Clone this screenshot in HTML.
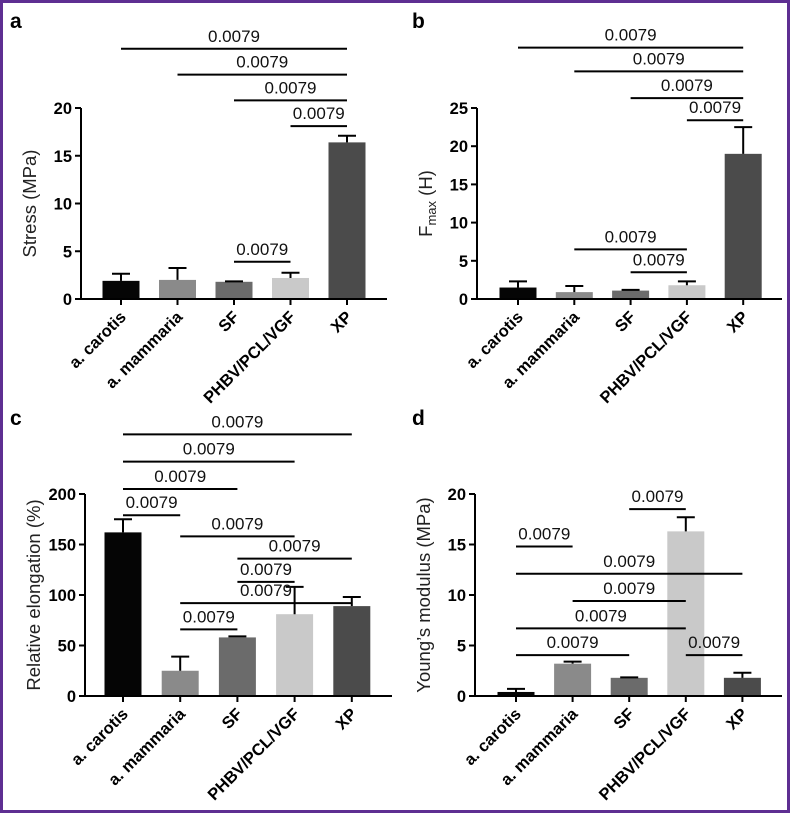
<!DOCTYPE html>
<html><head><meta charset="utf-8">
<style>
html,body{margin:0;padding:0;background:#fff}
#wrap{position:relative;width:790px;height:813px;box-sizing:border-box;border:3px solid #5e2f92;background:#fff;overflow:hidden}
svg{position:absolute;left:-3px;top:-3px}
text{font-family:"Liberation Sans",Arial,sans-serif}
</style></head>
<body>
<div id="wrap">
<svg id="fig" width="790" height="813"></svg>
</div>
<script>
const categories = ["a. carotis","a. mammaria","SF","PHBV/PCL/VGF","XP"];
const stressValues = [1.9, 2.0, 1.8, 2.2, 16.4];
const stressErrors = [0.75, 1.25, 0.05, 0.55, 0.7];
const fmaxValues = [1.5, 0.9, 1.1, 1.8, 19.0];
const fmaxErrors = [0.8, 0.8, 0.1, 0.5, 3.5];
const elongValues = [162, 25, 58, 81, 89];
const elongErrors = [13, 14, 1, 27, 9];
const youngValues = [0.4, 3.2, 1.8, 16.3, 1.8];
const youngErrors = [0.3, 0.2, 0.05, 1.4, 0.5];
const stressTicks = [0,5,10,15,20];
const fmaxTicks = [0,5,10,15,20,25];
const elongTicks = [0,50,100,150,200];
const youngTicks = [0,5,10,15,20];
// significance brackets: [fromGroup, toGroup, heightInDataUnits, label]
const stressSig = [[0,4,26.2,"0.0079"],[1,4,23.5,"0.0079"],[2,4,20.8,"0.0079"],[3,4,18.1,"0.0079"],[2,3,3.9,"0.0079"]];
const fmaxSig = [[0,4,32.9,"0.0079"],[1,4,29.8,"0.0079"],[2,4,26.3,"0.0079"],[3,4,23.4,"0.0079"],[1,3,6.5,"0.0079"],[2,3,3.5,"0.0079"]];
const elongSig = [[0,4,259,"0.0079"],[0,3,232,"0.0079"],[0,2,205,"0.0079"],[0,1,179,"0.0079"],[1,3,158,"0.0079"],[2,4,136,"0.0079"],[2,3,113,"0.0079"],[1,4,92,"0.0079"],[1,2,66,"0.0079"]];
const youngSig = [[2,3,18.5,"0.0079"],[0,1,14.8,"0.0079"],[0,4,12.1,"0.0079"],[1,3,9.4,"0.0079"],[0,3,6.7,"0.0079"],[0,2,4.05,"0.0079"],[3,4,4.05,"0.0079"]];
const barColors = ["#050505","#8a8a8a","#6b6b6b","#c9c9c9","#4b4b4b"];

const NS="http://www.w3.org/2000/svg";
const svg=document.getElementById('fig');
function mk(tag,attrs,parent){const e=document.createElementNS(NS,tag);for(const k in attrs)e.setAttribute(k,attrs[k]);(parent||svg).appendChild(e);return e;}

function panel(cfg){
  const g=mk('g',{});
  
  
  const y=v=>cfg.y0-(v/cfg.ymax)*(cfg.y0-cfg.yTop);
  const x=i=>cfg.x1+i*cfg.step;
  const bw=37;
  const lt=mk('text',{x:cfg.lx,y:cfg.ly,'font-size':21,'font-weight':'bold'},g);lt.textContent=cfg.letter;
  
  
  cfg.values.forEach((v,i)=>{
    const r=mk('rect',{x:x(i)-bw/2,y:y(v),width:bw,height:cfg.y0-y(v),fill:barColors[i]},g);
    
    
    const top=y(v+cfg.errors[i]);
    const e=mk('path',{d:`M${x(i)} ${y(v)}V${top}M${x(i)-9} ${top}H${x(i)+9}`,stroke:'#000','stroke-width':2,fill:'none'},g);
    
    
  });
  const ax=mk('path',{d:`M${cfg.ax} ${cfg.yTop}V${cfg.y0}H${cfg.axEnd}`,stroke:'#000','stroke-width':2,fill:'none'},g);
  
  
  cfg.ticks.forEach(t=>{
    mk('line',{x1:cfg.ax-6,x2:cfg.ax,y1:y(t),y2:y(t),stroke:'#000','stroke-width':2},g);
    const tx=mk('text',{x:cfg.ax-9,y:y(t)+6,'font-size':16.5,'font-weight':'bold','text-anchor':'end'},g);
    tx.textContent=t;
    
    
  });
  categories.forEach((c,i)=>{
    mk('line',{x1:x(i),x2:x(i),y1:cfg.y0,y2:cfg.y0+6,stroke:'#000','stroke-width':2},g);
    const tx=mk('text',{transform:`translate(${x(i)+6},${cfg.y0+19}) rotate(-45)`,'font-size':16.5,'font-weight':'bold','text-anchor':'end'},g);
    tx.textContent=c;
    
    
  });
  const yl=mk('text',{transform:`translate(${cfg.ax-45},${(cfg.y0+cfg.yTop)/2}) rotate(-90)`,'font-size':18.5,'text-anchor':'middle',fill:'#222'},g);
  
  
  if(cfg.fmax){
    yl.innerHTML='F<tspan font-size="13" dy="4">max</tspan><tspan dy="-4"> (H)</tspan>';
  } else yl.textContent=cfg.ytitle;
  cfg.sig.forEach(s=>{
    const yy=y(s[2]);
    const l=mk('line',{x1:x(s[0]),x2:x(s[1]),y1:yy,y2:yy,stroke:'#000','stroke-width':2},g);
    
    
    const t=mk('text',{x:(x(s[0])+x(s[1]))/2,y:yy-7,'font-size':17,'text-anchor':'middle',fill:'#111'},g);
    t.textContent=s[3];
    
    
  });
}
panel({letter:'a',lx:10,ly:28,ax:81,axEnd:387,y0:299,yTop:108,ymax:20,x1:121,step:56.5,values:stressValues,errors:stressErrors,ticks:stressTicks,sig:stressSig,ytitle:'Stress (MPa)'});
panel({letter:'b',lx:412,ly:28,ax:477,axEnd:782,y0:299,yTop:108,ymax:25,x1:518,step:56.3,values:fmaxValues,errors:fmaxErrors,ticks:fmaxTicks,sig:fmaxSig,fmax:true});
panel({letter:'c',lx:10,ly:425,ax:85,axEnd:392,y0:696,yTop:494,ymax:200,x1:123,step:57.2,values:elongValues,errors:elongErrors,ticks:elongTicks,sig:elongSig,ytitle:'Relative elongation (%)'});
panel({letter:'d',lx:412,ly:425,ax:475,axEnd:782,y0:696,yTop:494,ymax:20,x1:516,step:56.6,values:youngValues,errors:youngErrors,ticks:youngTicks,sig:youngSig,ytitle:'Young\u2019s modulus (MPa)'});
</script>
</body></html>
